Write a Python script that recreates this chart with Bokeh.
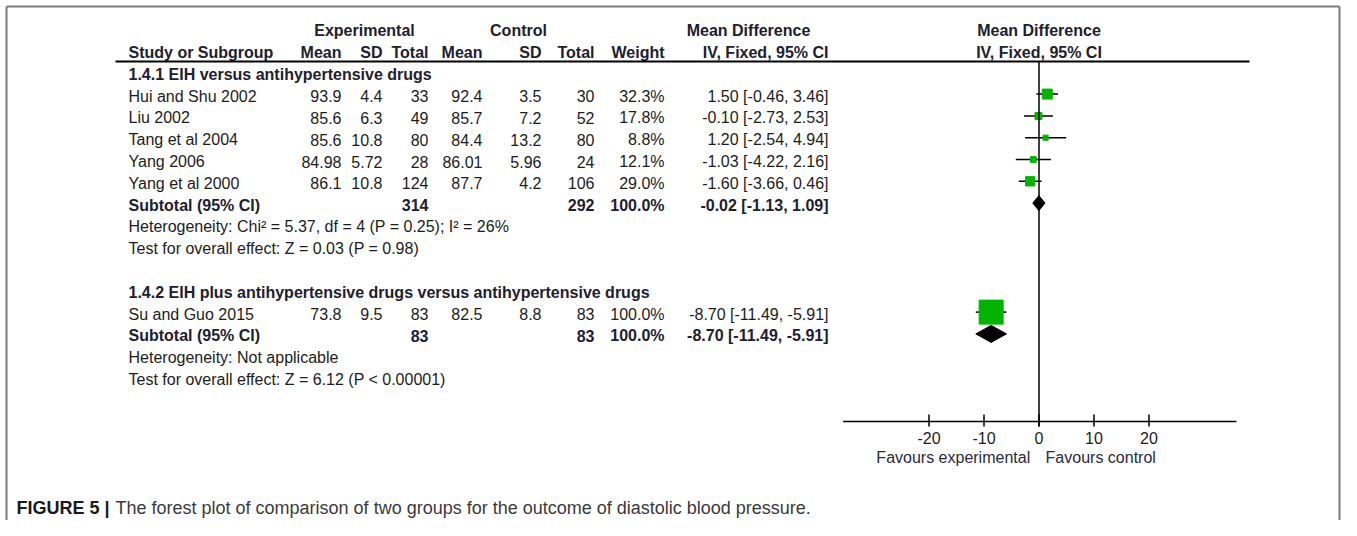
from bokeh.plotting import figure
from bokeh.models import Range1d
from bokeh.core.properties import value
from bokeh.embed import file_html
from bokeh.resources import INLINE

# ---------------- data ----------------
subgroups = ["1.4.1 EIH versus antihypertensive drugs",
             "1.4.2 EIH plus antihypertensive drugs versus antihypertensive drugs"]

studies_1 = ["Hui and Shu 2002", "Liu 2002", "Tang et al 2004", "Yang 2006", "Yang et al 2000"]
exp_mean_1 = [93.9, 85.6, 85.6, 84.98, 86.1]
exp_sd_1 = [4.4, 6.3, 10.8, 5.72, 10.8]
exp_total_1 = [33, 49, 80, 28, 124]
ctl_mean_1 = [92.4, 85.7, 84.4, 86.01, 87.7]
ctl_sd_1 = [3.5, 7.2, 13.2, 5.96, 4.2]
ctl_total_1 = [30, 52, 80, 24, 106]
weight_1 = [32.3, 17.8, 8.8, 12.1, 29.0]
md_1 = [1.50, -0.10, 1.20, -1.03, -1.60]
lo_1 = [-0.46, -2.73, -2.54, -4.22, -3.66]
hi_1 = [3.46, 2.53, 4.94, 2.16, 0.46]
sub_1 = dict(exp_total=314, ctl_total=292, weight=100.0, md=-0.02, lo=-1.13, hi=1.09)
het_1 = "Heterogeneity: Chi\u00b2 = 5.37, df = 4 (P = 0.25); I\u00b2 = 26%"
test_1 = "Test for overall effect: Z = 0.03 (P = 0.98)"

studies_2 = ["Su and Guo 2015"]
exp_mean_2 = [73.8]
exp_sd_2 = [9.5]
exp_total_2 = [83]
ctl_mean_2 = [82.5]
ctl_sd_2 = [8.8]
ctl_total_2 = [83]
weight_2 = [100.0]
md_2 = [-8.70]
lo_2 = [-11.49]
hi_2 = [-5.91]
sub_2 = dict(exp_total=83, ctl_total=83, weight=100.0, md=-8.70, lo=-11.49, hi=-5.91)
het_2 = "Heterogeneity: Not applicable"
test_2 = "Test for overall effect: Z = 6.12 (P < 0.00001)"

axis_ticks = [-20, -10, 0, 10, 20]
favours = ["Favours experimental", "Favours control"]
caption_bold = "FIGURE 5 |"
caption_text = "The forest plot of comparison of two groups for the outcome of diastolic blood pressure."

# ---------------- layout ----------------
W, H = 1341, 520
FONT = "Liberation Sans"
TXT = "#1c1c1c"
HDR = "#20202e"
GREEN = "#00b400"

ZERO_PX = 1038.5     # x pixel of MD = 0
PX_PER_UNIT = 5.5
md_start = (0 - ZERO_PX) / PX_PER_UNIT
md_end = (W - ZERO_PX) / PX_PER_UNIT

p = figure(width=W, height=H, x_range=Range1d(0, W), y_range=Range1d(H, 0),
           output_backend="svg", toolbar_location=None, min_border=0,
           x_axis_location=None, y_axis_location=None)
p.grid.visible = False
p.outline_line_color = None
p.extra_x_ranges = {"md": Range1d(md_start, md_end)}


def txt(xs, ys, texts, align="left", bold=False, size=16, color=TXT, font=FONT):
    p.text(x=xs, y=ys, text=texts, text_align=align, text_baseline="middle",
           text_font=value(font), text_font_size=f"{size}px",
           text_font_style="bold" if bold else "normal", text_color=color)


def fnum(v):
    return str(v)


ROW0 = 52.0
STEP = 21.8


def row_y(k):
    return ROW0 + STEP * k


X_STUDY = 128
COL = dict(exp_mean=341, exp_sd=382, exp_total=428, ctl_mean=482, ctl_sd=541,
           ctl_total=594, weight=664, ci=828)

# frame (top, left, right)
p.segment(x0=[6, 6, W - 2], y0=[6, 6, 6], x1=[W - 2, 6, W - 2], y1=[6, H, H],
          line_color="#7a7a7a", line_width=2)

# header
y_h1, y_h2 = row_y(-1), row_y(0)
txt([364, 518, 748], [y_h1] * 3, ["Experimental", "Control", "Mean Difference"], "center", True, 16, HDR)
txt([X_STUDY], [y_h2], ["Study or Subgroup"], "left", True, 16, HDR)
hdr_labels = ["Mean", "SD", "Total", "Mean", "SD", "Total", "Weight", "IV, Fixed, 95% CI"]
hdr_keys = ["exp_mean", "exp_sd", "exp_total", "ctl_mean", "ctl_sd", "ctl_total", "weight", "ci"]
txt([COL[k] for k in hdr_keys], [y_h2] * 8, hdr_labels, "right", True, 16, HDR)
txt([ZERO_PX, ZERO_PX], [y_h1, y_h2], ["Mean Difference", "IV, Fixed, 95% CI"], "center", True, 16, HDR)

# header rule
p.segment(x0=[115], y0=[61], x1=[1249], y1=[61], line_color="black", line_width=2)


def ci_text(m, l, h):
    return f"{m:.2f} [{l:.2f}, {h:.2f}]"


def draw_group(k0, title, studies, em, esd, et, cm, csd, ct, w, md, lo, hi, sub, het, test, hh):
    txt([X_STUDY], [row_y(k0)], [title], "left", True, 16, HDR)
    ys = [row_y(k0 + 1 + i) for i in range(len(studies))]
    txt([X_STUDY] * len(studies), ys, studies)
    cols = [("exp_mean", [fnum(v) for v in em]), ("exp_sd", [fnum(v) for v in esd]),
            ("exp_total", [str(v) for v in et]), ("ctl_mean", [fnum(v) for v in cm]),
            ("ctl_sd", [fnum(v) for v in csd]), ("ctl_total", [str(v) for v in ct]),
            ("weight", [f"{v:.1f}%" for v in w]),
            ("ci", [ci_text(a, b, c) for a, b, c in zip(md, lo, hi)])]
    for key, vals in cols:
        txt([COL[key]] * len(vals), ys, vals, "right")
    # forest marks
    ym = [y - 2 for y in ys]
    p.segment(x0=lo, y0=ym, x1=hi, y1=ym, line_color="black", line_width=1.5, x_range_name="md")
    sizes = [3.3 + 0.207 * v for v in w]
    p.scatter(x=md, y=ym, size=sizes, marker="square", fill_color=GREEN, line_color=GREEN,
              x_range_name="md")
    # subtotal
    ks = k0 + 1 + len(studies)
    ysub = row_y(ks)
    txt([X_STUDY], [ysub], ["Subtotal (95% CI)"], "left", True, 16, HDR)
    txt([COL["exp_total"], COL["ctl_total"], COL["weight"], COL["ci"]], [ysub] * 4,
        [str(sub["exp_total"]), str(sub["ctl_total"]), f"{sub['weight']:.1f}%",
         ci_text(sub["md"], sub["lo"], sub["hi"])], "right", True, 16, HDR)
    yd = ysub - 2
    p.patch(x=[sub["lo"], sub["md"], sub["hi"], sub["md"]],
            y=[yd, yd - hh, yd, yd + hh], fill_color="black", line_color="black",
            x_range_name="md")
    txt([X_STUDY, X_STUDY], [row_y(ks + 1), row_y(ks + 2)], [het, test])


draw_group(1, subgroups[0], studies_1, exp_mean_1, exp_sd_1, exp_total_1, ctl_mean_1, ctl_sd_1,
           ctl_total_1, weight_1, md_1, lo_1, hi_1, sub_1, het_1, test_1, 7.5)
draw_group(11, subgroups[1], studies_2, exp_mean_2, exp_sd_2, exp_total_2, ctl_mean_2, ctl_sd_2,
           ctl_total_2, weight_2, md_2, lo_2, hi_2, sub_2, het_2, test_2, 8.5)

# forest axis
AXIS_Y = 421
p.segment(x0=[0], y0=[61], x1=[0], y1=[AXIS_Y + 5], line_color="black", line_width=1.5,
          x_range_name="md")
p.segment(x0=[-35.6], y0=[AXIS_Y], x1=[35.9], y1=[AXIS_Y], line_color="black", line_width=1.5,
          x_range_name="md")
p.segment(x0=axis_ticks, y0=[AXIS_Y - 7] * 5, x1=axis_ticks, y1=[AXIS_Y + 5] * 5,
          line_color="black", line_width=1.5, x_range_name="md")
p.text(x=axis_ticks, y=[437] * 5, text=[str(t) for t in axis_ticks], text_align="center",
       text_baseline="middle", text_font=value(FONT), text_font_size="16px", text_color=TXT,
       x_range_name="md")
p.text(x=[-1.6, 1.2], y=[457, 457], text=favours, text_align=["right", "left"],
       text_baseline="middle", text_font=value(FONT), text_font_size="16px",
       text_color="#2a2a40", x_range_name="md")

# caption
txt([16], [507], [caption_bold], "left", True, 18, "#1a1a1a")
txt([115], [507], [caption_text], "left", False, 18, "#3a3a3a")

open("out.html", "w").write(file_html(p, INLINE))
